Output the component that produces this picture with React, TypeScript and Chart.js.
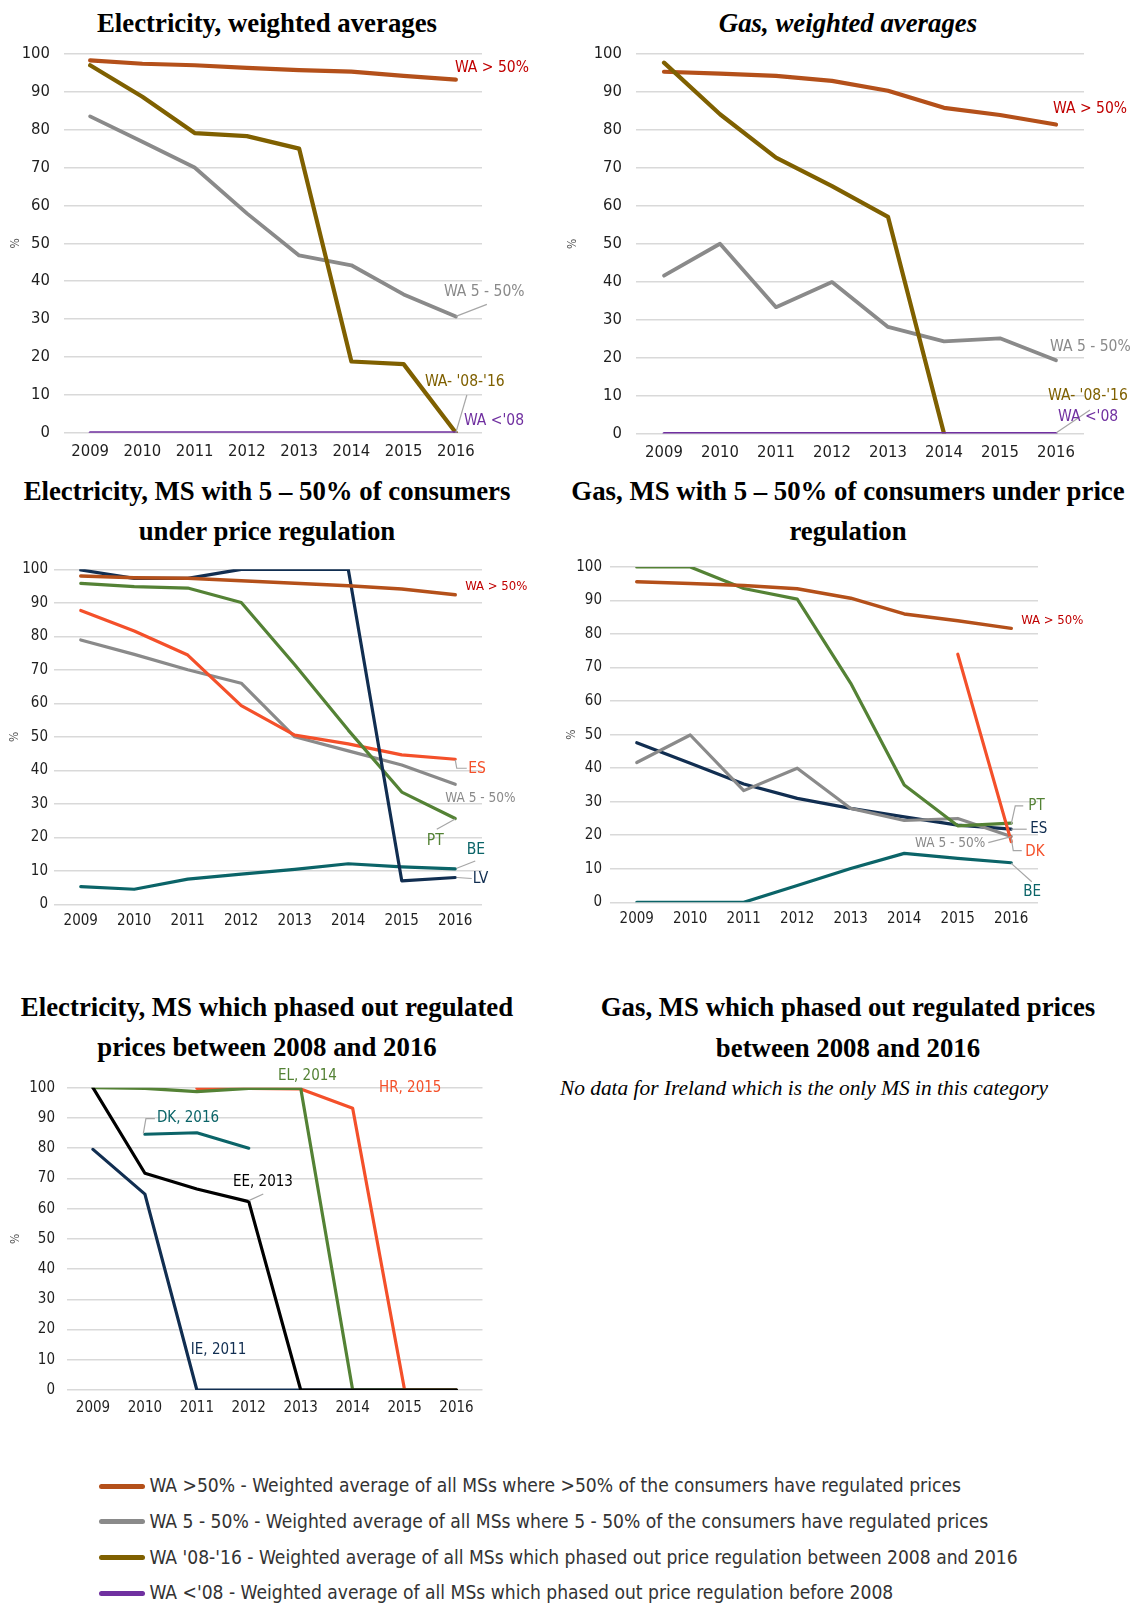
import React, { useEffect, useRef } from "react";
import { Chart, registerables } from "chart.js";

Chart.register(...registerables);

// ---------- data ----------
const years = ["2009", "2010", "2011", "2012", "2013", "2014", "2015", "2016"];

// Electricity, weighted averages
const elecWA50 = [98.3, 97.4, 97.0, 96.3, 95.7, 95.3, 94.2, 93.2];
const elecWA5 = [83.5, 76.8, 70.0, 57.9, 46.8, 44.2, 36.5, 30.7];
const elecWA0816 = [97.0, 88.7, 79.1, 78.3, 75.0, 18.8, 18.1, 0];
const elecWA08 = [0, 0, 0, 0, 0, 0, 0, 0];

// Gas, weighted averages
const gasWA50 = [95.3, 94.8, 94.2, 92.9, 90.3, 85.8, 83.9, 81.4];
const gasWA5 = [41.6, 50.0, 33.3, 39.9, 28.1, 24.3, 25.1, 19.3];
const gasWA0816 = [97.7, 84.1, 72.7, 65.2, 57.1, 0, null, null];
const gasWA08 = [0, 0, 0, 0, 0, 0, 0, 0];

// Electricity, MS with 5-50%
const e5WA50 = [98.0, 97.5, 97.3, 96.6, 95.8, 95.1, 94.1, 92.4];
const e5LV = [99.8, 97.3, 97.3, 100, 100, 100, 7.0, 8.0];
const e5PT = [95.8, 94.8, 94.4, 90.1, 71.5, 52.0, 33.5, 25.6];
const e5ES = [87.7, 81.6, 74.4, 59.3, 50.5, 47.9, 44.6, 43.3];
const e5WA5 = [78.9, 74.6, 70.0, 66.0, 50.0, 45.8, 41.6, 35.8];
const e5BE = [5.3, 4.5, 7.5, 9.0, 10.4, 12.1, 11.2, 10.6];

// Gas, MS with 5-50%
const g5WA50 = [95.6, 95.1, 94.5, 93.5, 90.7, 86.0, 84.0, 81.7];
const g5PT = [100, 100, 93.6, 90.4, 65.3, 35.0, 22.8, 23.6];
const g5ES = [47.6, 41.5, 35.3, 31.0, 28.0, 25.5, 23.0, 21.8];
const g5WA5 = [41.7, 49.9, 33.3, 40.0, 28.0, 24.4, 25.0, 19.6];
const g5BE = [0, 0, 0, 5.0, 10.1, 14.6, 13.1, 11.8];
const g5DK = [null, null, null, null, null, null, 74.0, 18.1];

// Electricity, MS which phased out regulated prices 2008-2016
const phIE = [79.6, 64.8, 0, 0, 0, 0, 0, 0];
const phEE = [100, 71.7, 66.5, 62.3, 0, 0, 0, 0];
const phEL = [100, 99.8, 98.7, 99.8, 99.8, 0, 0, 0];
const phHR = [null, null, 99.8, 99.8, 99.6, 93.2, 0, 0];
const phDK = [null, 84.6, 85.1, 80.0, null, null, null, null];

const legendTexts = [
  "WA >50% - Weighted average of all MSs where >50% of the consumers have regulated prices",
  "WA 5 - 50% - Weighted average of all MSs where 5 - 50% of the consumers have regulated prices",
  "WA '08-'16 - Weighted average of all MSs which phased out price regulation between 2008 and 2016",
  "WA <'08 - Weighted average of all MSs which phased out price regulation before 2008",
];

// ---------- styles ----------
const C = {
  wa50: "#B4501A",
  wa5: "#8A8A8A",
  olive: "#7F6000",
  purple: "#7030A0",
  red: "#C00000",
  orange: "#F4502A",
  navy: "#112E51",
  green: "#548235",
  teal: "#0B6468",
  black: "#000000",
  conn: "#A6A6A6",
};
const TICK_FONT = "'DejaVu Sans Condensed', 'DejaVu Sans', sans-serif";
const LABEL_FONT = "'DejaVu Sans Condensed', 'DejaVu Sans', sans-serif";
const SERIF = "'Liberation Serif', 'Times New Roman', serif";

type Lbl = { t: string; c: string; i: number; v: number; dx: number; dy: number; s: number; a?: CanvasTextAlign };
type Conn = { i: number; v: number; pts: number[][] };

const annotPlugin = {
  id: "annot",
  afterDraw(chart: any, _args: any, opts: any) {
    const { ctx } = chart;
    const xs = chart.scales.x;
    const ys = chart.scales.y;
    const P = (i: number, v: number) => [xs.getPixelForValue(i), ys.getPixelForValue(v)];
    ctx.save();
    (opts.connectors || []).forEach((c: Conn) => {
      const [x0, y0] = P(c.i, c.v);
      ctx.beginPath();
      ctx.strokeStyle = C.conn;
      ctx.lineWidth = 1.2;
      c.pts.forEach((p, k) => {
        if (k === 0) ctx.moveTo(x0 + p[0], y0 + p[1]);
        else ctx.lineTo(x0 + p[0], y0 + p[1]);
      });
      ctx.stroke();
    });
    (opts.labels || []).forEach((l: Lbl) => {
      const [x0, y0] = P(l.i, l.v);
      ctx.font = `${l.s}px ${LABEL_FONT}`;
      ctx.fillStyle = l.c;
      ctx.textAlign = l.a || "left";
      ctx.textBaseline = "middle";
      ctx.fillText(l.t, x0 + l.dx, y0 + l.dy);
    });
    ctx.restore();
  },
};

type DS = { label: string; data: (number | null)[]; color: string; w: number; order: number };
type PanelProps = {
  box: { L: number; T: number; W: number; H: number };
  area: { l: number; r: number; t: number; b: number };
  sets: DS[];
  labels: Lbl[];
  connectors: Conn[];
  tick: number;
  yPad: number;
  xPad: number;
  pctX: number;
};

function ChartPanel(p: PanelProps) {
  const ref = useRef<HTMLCanvasElement>(null);
  useEffect(() => {
    const { L, T, W, H } = p.box;
    const { l, r, t, b } = p.area;
    const chart = new Chart(ref.current as HTMLCanvasElement, {
      type: "line",
      data: {
        labels: years,
        datasets: p.sets.map((s) => ({
          label: s.label,
          data: s.data,
          borderColor: s.color,
          backgroundColor: s.color,
          borderWidth: s.w,
          pointRadius: 0,
          pointHoverRadius: 0,
          tension: 0,
          order: s.order,
          fill: false,
          spanGaps: false,
          borderJoinStyle: "round",
          borderCapStyle: "round",
        })),
      },
      options: {
        responsive: false,
        animation: false,
        events: [],
        layout: { padding: { left: 0, top: t - T, right: L + W - r, bottom: 0 } },
        plugins: {
          legend: { display: false },
          tooltip: { enabled: false },
          annot: { labels: p.labels, connectors: p.connectors },
        } as any,
        scales: {
          x: {
            offset: true,
            grid: { display: false, drawTicks: false },
            border: { display: false },
            ticks: {
              font: { family: TICK_FONT, size: p.tick },
              color: "#1F1F1F",
              padding: p.xPad,
              maxRotation: 0,
              autoSkip: false,
            },
            afterFit: (s: any) => {
              s.height = T + H - b;
            },
          },
          y: {
            min: 0,
            max: 100,
            ticks: {
              stepSize: 10,
              font: { family: TICK_FONT, size: p.tick },
              color: "#1F1F1F",
              padding: p.yPad,
            },
            grid: { color: "#D9D9D9", lineWidth: 1.5, drawTicks: false },
            border: { display: false },
            title: {
              display: true,
              text: "%",
              color: "#595959",
              font: { family: LABEL_FONT, size: 12, lineHeight: 1.2 },
              padding: { top: p.pctX - L - 7.2, bottom: 0 },
            },
            afterFit: (s: any) => {
              s.width = l - L;
            },
          },
        },
      } as any,
      plugins: [annotPlugin],
    });
    return () => chart.destroy();
  }, []);
  return (
    <canvas
      ref={ref}
      width={p.box.W}
      height={p.box.H}
      style={{ position: "absolute", left: p.box.L, top: p.box.T, width: p.box.W, height: p.box.H }}
    />
  );
}

function Title({ cx, cy, text, italic, size = 26.8, bold = true }: any) {
  return (
    <div
      style={{
        position: "absolute",
        left: cx - 350,
        width: 700,
        top: cy - 20,
        height: 40,
        lineHeight: "40px",
        textAlign: "center",
        fontFamily: SERIF,
        fontWeight: bold ? "bold" : "normal",
        fontStyle: italic ? "italic" : "normal",
        fontSize: size,
        color: "#000",
        whiteSpace: "nowrap",
      }}
    >
      {text}
    </div>
  );
}

const legendColors = [C.wa50, C.wa5, C.olive, C.purple];
const legendY = [1486, 1521.6, 1557.5, 1593];

export default function App() {
  const panel1: PanelProps = {
    box: { L: 0, T: 30, W: 570, H: 445 },
    area: { l: 64, r: 482, t: 49.3, b: 432.7 },
    sets: [
      { label: "WA <'08", data: elecWA08, color: C.purple, w: 3, order: 0 },
      { label: "WA >50%", data: elecWA50, color: C.wa50, w: 4.2, order: 1 },
      { label: "WA '08-'16", data: elecWA0816, color: C.olive, w: 4.2, order: 2 },
      { label: "WA 5 - 50%", data: elecWA5, color: C.wa5, w: 3.8, order: 3 },
    ],
    labels: [
      { t: "WA > 50%", c: C.red, i: 7, v: 93.2, dx: -1, dy: -12, s: 15.5 },
      { t: "WA 5 - 50%", c: C.wa5, i: 7, v: 30.7, dx: -12, dy: -24, s: 15.5 },
      { t: "WA- '08-'16", c: C.olive, i: 7, v: 0, dx: -31, dy: -50.7, s: 15.5 },
      { t: "WA <'08", c: C.purple, i: 7, v: 0, dx: 8, dy: -11.7, s: 15.5 },
    ],
    connectors: [
      { i: 7, v: 30.7, pts: [[0, 0], [31, -12]] },
      { i: 7, v: 0, pts: [[0, 0], [11, -37.7]] },
    ],
    tick: 16.5,
    yPad: 14,
    xPad: 9,
    pctX: 16,
  };
  const panel2: PanelProps = {
    box: { L: 560, T: 30, W: 581, H: 445 },
    area: { l: 636, r: 1084, t: 45, b: 433.6 },
    sets: [
      { label: "WA <'08", data: gasWA08, color: C.purple, w: 3, order: 0 },
      { label: "WA '08-'16", data: gasWA0816, color: C.olive, w: 4.2, order: 1 },
      { label: "WA >50%", data: gasWA50, color: C.wa50, w: 4.2, order: 2 },
      { label: "WA 5 - 50%", data: gasWA5, color: C.wa5, w: 3.8, order: 3 },
    ],
    labels: [
      { t: "WA > 50%", c: C.red, i: 7, v: 81.4, dx: -3, dy: -15.6, s: 15.5 },
      { t: "WA 5 - 50%", c: C.wa5, i: 7, v: 19.3, dx: -6, dy: -13.6, s: 15.5 },
      { t: "WA- '08-'16", c: C.olive, i: 7, v: 0, dx: -8, dy: -37.6, s: 15.5 },
      { t: "WA <'08", c: C.purple, i: 7, v: 0, dx: 2, dy: -16.6, s: 15.5 },
    ],
    connectors: [{ i: 7, v: 0, pts: [[0.7, -1], [34, -23.6]] }],
    tick: 16.5,
    yPad: 14,
    xPad: 9.5,
    pctX: 573,
  };
  const panel3: PanelProps = {
    box: { L: 0, T: 550, W: 570, H: 395 },
    area: { l: 54, r: 482, t: 569.3, b: 904.3 },
    sets: [
      { label: "WA >50%", data: e5WA50, color: C.wa50, w: 3.5, order: 0 },
      { label: "LV", data: e5LV, color: C.navy, w: 3.2, order: 1 },
      { label: "PT", data: e5PT, color: C.green, w: 3.2, order: 2 },
      { label: "ES", data: e5ES, color: C.orange, w: 3.2, order: 3 },
      { label: "WA 5 - 50%", data: e5WA5, color: C.wa5, w: 3.2, order: 4 },
      { label: "BE", data: e5BE, color: C.teal, w: 3.2, order: 5 },
    ],
    labels: [
      { t: "WA > 50%", c: C.red, i: 7, v: 92.4, dx: 10, dy: -8, s: 13 },
      { t: "ES", c: C.orange, i: 7, v: 43.3, dx: 13, dy: 10, s: 15.5 },
      { t: "WA 5 - 50%", c: C.wa5, i: 7, v: 35.8, dx: -10, dy: 14.6, s: 13.5 },
      { t: "PT", c: C.green, i: 7, v: 25.6, dx: -28.5, dy: 22, s: 15.5 },
      { t: "BE", c: C.teal, i: 7, v: 10.6, dx: 11.5, dy: -18.8, s: 15.5 },
      { t: "LV", c: C.navy, i: 7, v: 8, dx: 17.5, dy: 1.8, s: 15.5 },
    ],
    connectors: [
      { i: 7, v: 43.3, pts: [[0, 0.7], [1.5, 9], [11.5, 9]] },
      { i: 7, v: 25.6, pts: [[0, 0.5], [-18.5, 10.8]] },
      { i: 7, v: 10.6, pts: [[1.5, -0.5], [20, -7.8]] },
      { i: 7, v: 8, pts: [[1.5, 0], [16.5, 1]] },
    ],
    tick: 15,
    yPad: 6,
    xPad: 8,
    pctX: 15,
  };
  const panel4: PanelProps = {
    box: { L: 560, T: 550, W: 581, H: 395 },
    area: { l: 610, r: 1038, t: 567, b: 902.3 },
    sets: [
      { label: "DK", data: g5DK, color: C.orange, w: 3.2, order: 0 },
      { label: "WA >50%", data: g5WA50, color: C.wa50, w: 3.5, order: 1 },
      { label: "PT", data: g5PT, color: C.green, w: 3.2, order: 2 },
      { label: "WA 5 - 50%", data: g5WA5, color: C.wa5, w: 3.2, order: 3 },
      { label: "ES", data: g5ES, color: C.navy, w: 3.2, order: 4 },
      { label: "BE", data: g5BE, color: C.teal, w: 3.2, order: 5 },
    ],
    labels: [
      { t: "WA > 50%", c: C.red, i: 7, v: 81.7, dx: 10, dy: -7.7, s: 13 },
      { t: "PT", c: C.green, i: 7, v: 23.6, dx: 17, dy: -17.2, s: 15 },
      { t: "ES", c: C.navy, i: 7, v: 21.8, dx: 19, dy: 0, s: 15 },
      { t: "WA 5 - 50%", c: C.wa5, i: 7, v: 19.6, dx: -26, dy: 6.7, s: 13.5, a: "right" },
      { t: "DK", c: C.orange, i: 7, v: 18.1, dx: 14, dy: 10, s: 15 },
      { t: "BE", c: C.teal, i: 7, v: 11.8, dx: 12, dy: 29, s: 15 },
    ],
    connectors: [
      { i: 7, v: 23.6, pts: [[0, 0.8], [4, -17.2], [12, -17.2]] },
      { i: 7, v: 21.8, pts: [[0, 0], [15.5, 0]] },
      { i: 7, v: 19.6, pts: [[-23, 6], [0, 0]] },
      { i: 7, v: 18.1, pts: [[0, -3.6], [2, 9], [10.5, 9]] },
      { i: 7, v: 11.8, pts: [[0, 0.6], [20.5, 19]] },
    ],
    tick: 15,
    yPad: 8,
    xPad: 7.7,
    pctX: 572,
  };
  const panel5: PanelProps = {
    box: { L: 0, T: 1055, W: 570, H: 370 },
    area: { l: 67, r: 482.5, t: 1087.7, b: 1390 },
    sets: [
      { label: "EE, 2013", data: phEE, color: C.black, w: 3.2, order: 0 },
      { label: "EL, 2014", data: phEL, color: C.green, w: 3.2, order: 1 },
      { label: "HR, 2015", data: phHR, color: C.orange, w: 3.2, order: 2 },
      { label: "DK, 2016", data: phDK, color: C.teal, w: 3.2, order: 3 },
      { label: "IE, 2011", data: phIE, color: C.navy, w: 3.2, order: 4 },
    ],
    labels: [
      { t: "EL, 2014", c: C.green, i: 4, v: 100, dx: -22.75, dy: -11.7, s: 15 },
      { t: "HR, 2015", c: C.orange, i: 6, v: 100, dx: -25.6, dy: 0.6, s: 15 },
      { t: "DK, 2016", c: C.teal, i: 1, v: 84.6, dx: 12, dy: -15.7, s: 15 },
      { t: "EE, 2013", c: C.black, i: 3, v: 62.3, dx: -15.8, dy: -20, s: 15 },
      { t: "IE, 2011", c: C.navy, i: 2, v: 0, dx: -6, dy: -40, s: 15 },
    ],
    connectors: [
      { i: 1, v: 84.6, pts: [[-1.6, -0.7], [1, -15.7], [10, -15.7]] },
      { i: 3, v: 62.3, pts: [[0, -1], [14.5, -7.7]] },
    ],
    tick: 15,
    yPad: 12,
    xPad: 8.7,
    pctX: 16,
  };

  return (
    <div style={{ position: "absolute", left: 0, top: 0, width: 1141, height: 1604, background: "#fff" }}>
      <Title cx={267} cy={23} text="Electricity, weighted averages" />
      <Title cx={848} cy={23} text="Gas, weighted averages" italic />
      <Title cx={267} cy={490.7} text="Electricity, MS with 5 – 50% of consumers" />
      <Title cx={267} cy={531} text="under price regulation" />
      <Title cx={848} cy={490.7} text="Gas, MS with 5 – 50% of consumers under price" />
      <Title cx={848} cy={531} text="regulation" />
      <Title cx={267} cy={1007.3} text="Electricity, MS which phased out regulated" />
      <Title cx={267} cy={1047.3} text="prices between 2008 and 2016" />
      <Title cx={848} cy={1006.7} text="Gas, MS which phased out regulated prices" />
      <Title cx={848} cy={1048} text="between 2008 and 2016" />
      <Title cx={804} cy={1088.3} text="No data for Ireland which is the only MS in this category" italic bold={false} size={21.4} />

      <ChartPanel {...panel1} />
      <ChartPanel {...panel2} />
      <ChartPanel {...panel3} />
      <ChartPanel {...panel4} />
      <ChartPanel {...panel5} />

      {legendTexts.map((txt, k) => (
        <div key={k}>
          <div
            style={{
              position: "absolute",
              left: 99,
              top: legendY[k] - 2.5,
              width: 46,
              height: 5,
              borderRadius: 2.5,
              background: legendColors[k],
            }}
          />
          <div
            style={{
              position: "absolute",
              left: 149.4,
              top: legendY[k] - 15,
              height: 30,
              lineHeight: "30px",
              fontFamily: TICK_FONT,
              fontSize: 19.1,
              color: "#333",
              whiteSpace: "nowrap",
            }}
          >
            {txt}
          </div>
        </div>
      ))}
    </div>
  );
}
